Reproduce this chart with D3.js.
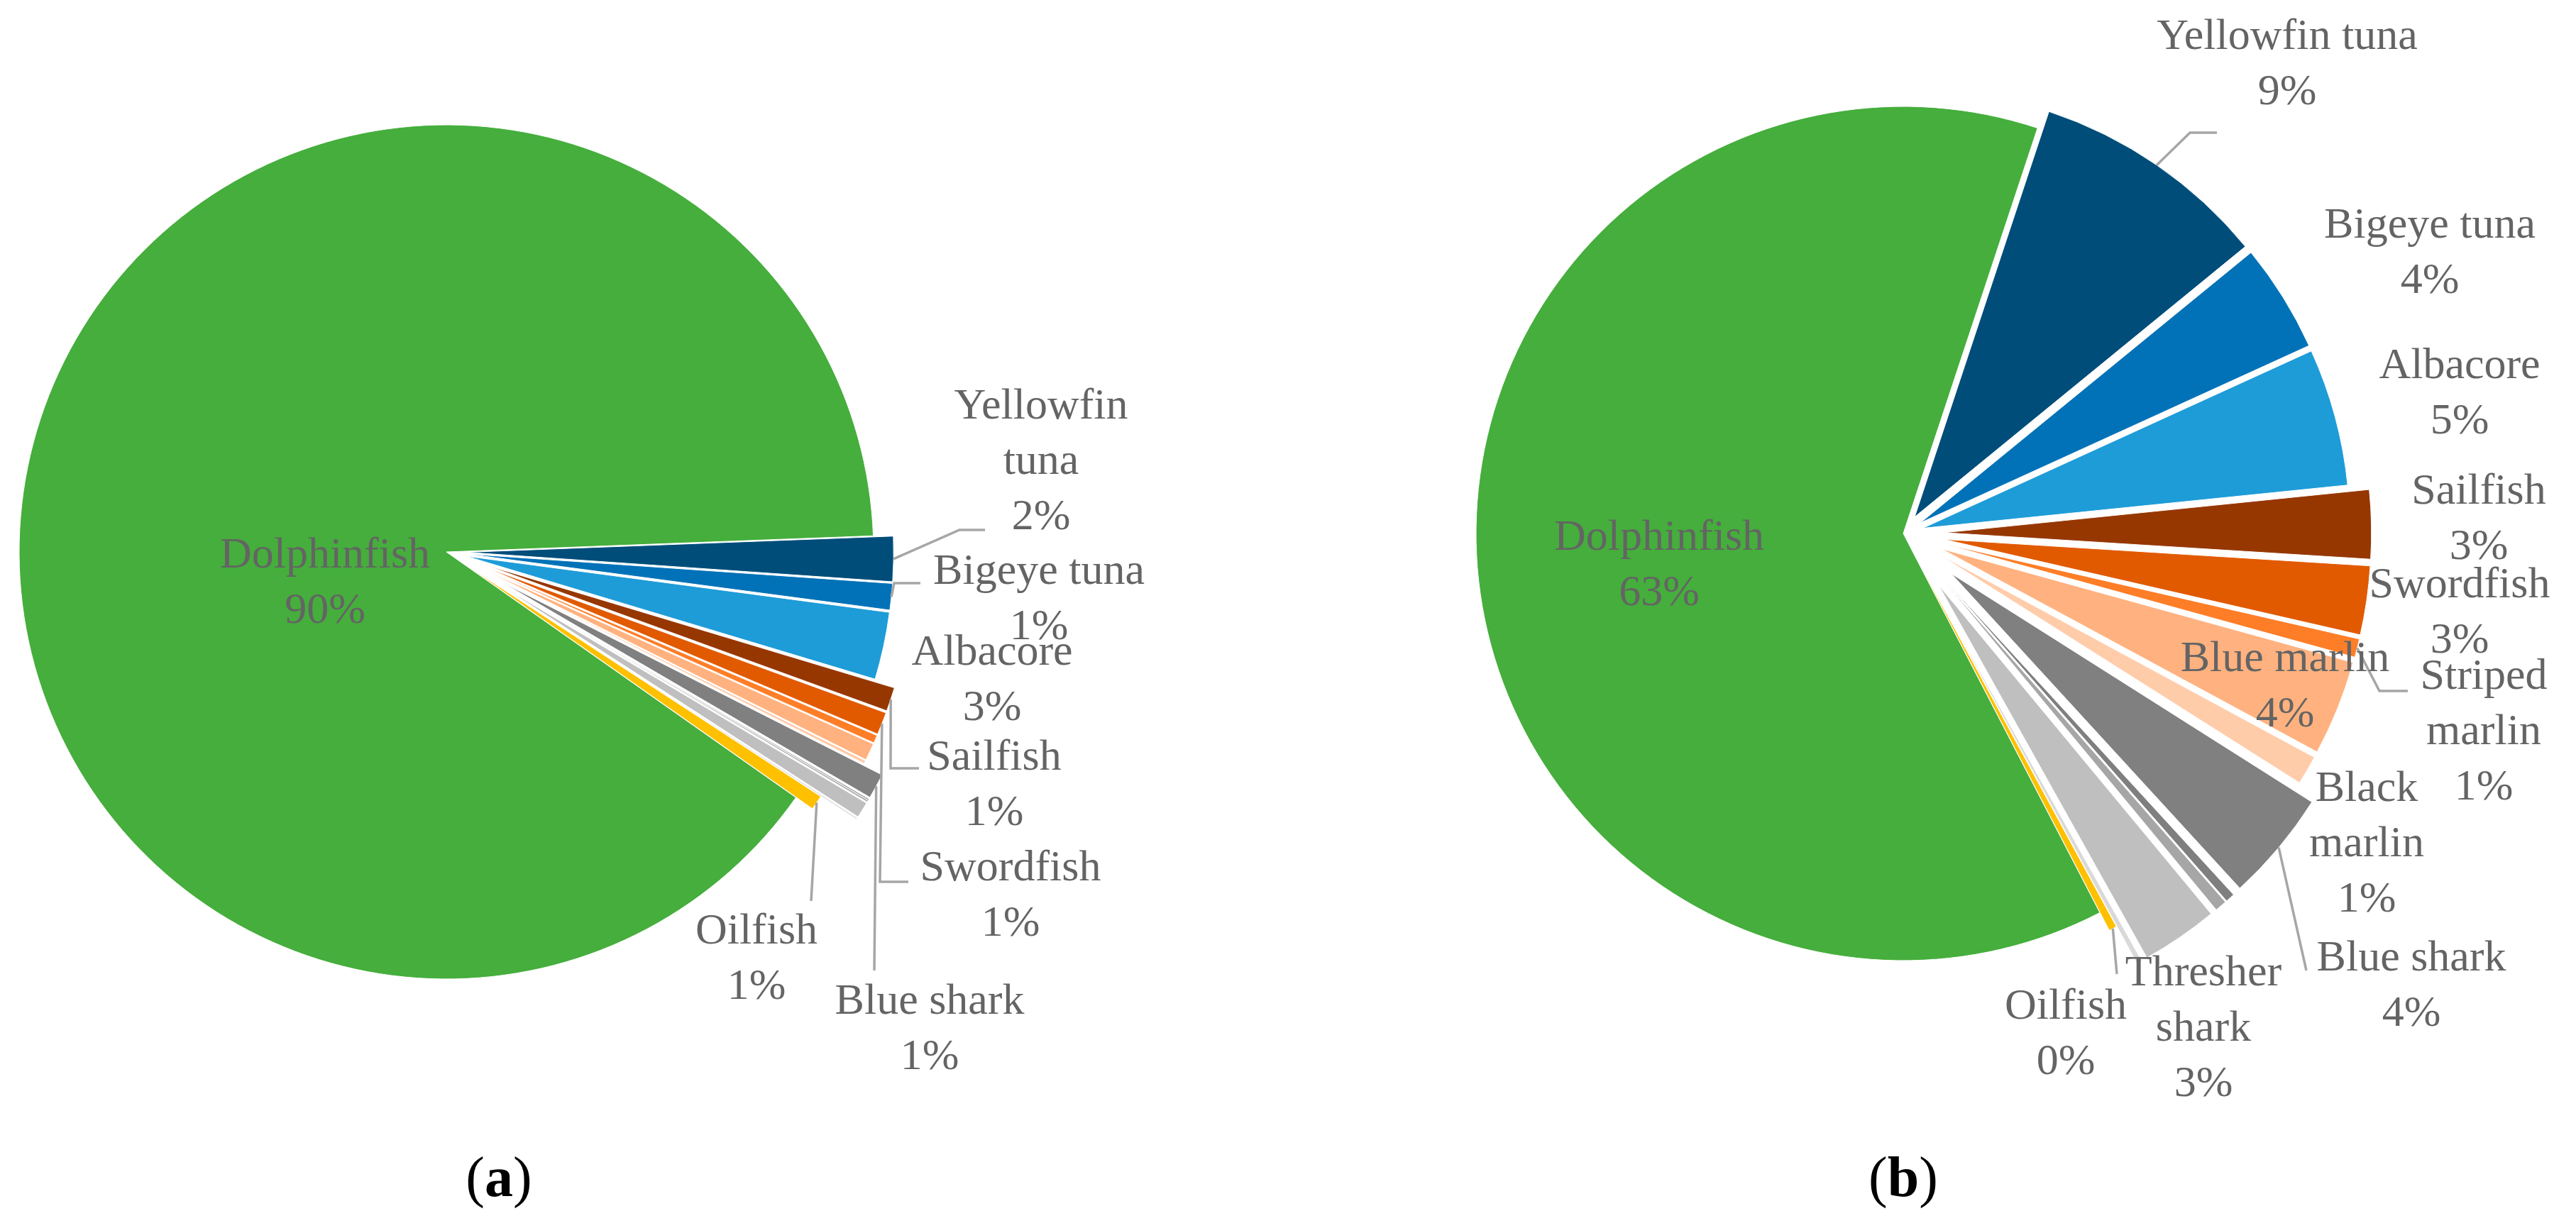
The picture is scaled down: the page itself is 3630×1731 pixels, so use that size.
<!DOCTYPE html>
<html><head><meta charset="utf-8">
<script src="https://cdn.jsdelivr.net/npm/d3@7"></script>
<style>html,body{margin:0;padding:0;background:#fff;} svg{display:block}</style>
</head><body>
<svg id="chart" width="3630" height="1731"></svg>
<script>
// ---------------- data ----------------
const species = ["Dolphinfish","Yellowfin tuna","Bigeye tuna","Albacore","Sailfish","Swordfish",
  "Striped marlin","Blue marlin","Black marlin","Blue shark","Other shark 1","Other shark 2",
  "Thresher shark","Other shark 3","Oilfish"];
// share of catch (%), panel (a)
const valuesA = [89.65,1.7,1.0,2.55,0.9,0.85,0.3,0.65,0.12,0.95,0.05,0.07,0.6,0.06,0.55];
// share of catch (%), panel (b)
const valuesB = [62.7,9.0,4.1,5.2,2.6,2.6,0.7,3.6,1.1,4.2,0.35,0.45,2.9,0.2,0.3];
const panelNames = ["a","b"];

// ---------------- style / layout ----------------
const colors = ["#45AE3C","#004D7A","#0272B8","#1E9CD8","#963700","#E15A00","#FE7E28","#FFB27F",
  "#FFCCAA","#808080","#7F7F7F","#A6A6A6","#BFBFBF","#D9D9D9","#FFC000"];
const explodeFrac = [0,0.047,0.047,0.047,0.096,0.096,0.096,0.096,0.096,0.146,0.146,0.146,0.146,0.146,0.047];
const R = 602;
const FONT = "'Liberation Serif', serif";
const FS = 62, LH = 78;

const panels = [
  {values: valuesA, cx: 629, cy: 778, start: 125.1, capX: 703,
   labels: [
     {i:0, x:458, y:800},
     {i:1, x:1467, y:590, wrap:true, leader:[[1352,747],[1388,747]]},
     {i:2, x:1464, y:823, leader:[[1260,822],[1297,822]]},
     {i:3, x:1398, y:937},
     {i:4, x:1401, y:1085, leader:[[1255,1083],[1295,1083]]},
     {i:5, x:1424, y:1241, leader:[[1240,1243],[1280,1243]]},
     {i:9, x:1310, y:1429, leader:[[1232,1368]]},
     {i:14, x:1066, y:1330, leader:[[1143,1270]]}
   ]},
  {values: valuesB, cx: 2682, cy: 752, start: 152.6, capX: 2682,
   labels: [
     {i:0, x:2338, y:775},
     {i:1, x:3223, y:69, leader:[[3086,187],[3124,187]]},
     {i:2, x:3424, y:335},
     {i:3, x:3466, y:533},
     {i:4, x:3493, y:710},
     {i:5, x:3466, y:842},
     {i:6, x:3500, y:971, wrap:true, leader:[[3353,974],[3393,974]]},
     {i:7, x:3220, y:946},
     {i:8, x:3335, y:1129, wrap:true},
     {i:9, x:3398, y:1368, leader:[[3250,1368]]},
     {i:12, x:3105, y:1389, wrap:true},
     {i:14, x:2911, y:1436, leader:[[2983,1373]]}
   ]}
];

// ---------------- drawing ----------------
const svg = d3.select("#chart");
svg.append("rect").attr("width",3630).attr("height",1731).attr("fill","#fff");
const rad = d => d*Math.PI/180;
const arc = d3.arc().innerRadius(0).outerRadius(R);
const textLayer = [];

panels.forEach((p, pi) => {
  const total = d3.sum(p.values);
  const pie = d3.pie().sort(null).value(d => d)
    .startAngle(rad(p.start)).endAngle(rad(p.start) + 2*Math.PI);
  const arcs = pie(p.values);
  const off = (d, i) => {
    const m = (d.startAngle + d.endAngle)/2, e = explodeFrac[i]*R;
    return [e*Math.sin(m), -e*Math.cos(m)];
  };
  const g = svg.append("g").attr("transform", `translate(${p.cx},${p.cy})`);
  g.selectAll("path.slice").data(arcs).join("path")
    .attr("class","slice")
    .attr("d", arc)
    .attr("fill", (d,i) => colors[i])
    .attr("stroke", "#fff").attr("stroke-width", 1)
    .attr("transform", (d,i) => { const o = off(d,i); return `translate(${o[0]},${o[1]})`; });

  p.labels.forEach(L => {
    const d = arcs[L.i];
    if (L.leader) {
      const m = (d.startAngle + d.endAngle)/2, o = off(d, L.i);
      const sx = p.cx + o[0] + R*Math.sin(m), sy = p.cy + o[1] - R*Math.cos(m);
      svg.append("path").attr("d", d3.line()([[sx,sy]].concat(L.leader)))
        .attr("fill","none").attr("stroke","#A6A6A6").attr("stroke-width",3.5);
    }
    const pct = Math.round(d.data/total*100) + "%";
    const name = species[L.i];
    textLayer.push({x:L.x, y:L.y, lines:(L.wrap ? name.split(" ") : [name]).concat([pct])});
  });
  textLayer.push({caption: panelNames[pi], x: p.capX});
});

textLayer.forEach(T => {
  if (T.caption) {
    const c = svg.append("text").attr("x",T.x).attr("y",1686).attr("text-anchor","middle")
      .attr("font-family",FONT).attr("font-size",80).attr("fill","#000");
    c.append("tspan").text("(");
    c.append("tspan").attr("font-weight","bold").text(T.caption);
    c.append("tspan").text(")");
    return;
  }
  const t = svg.append("text").attr("text-anchor","middle").attr("font-family",FONT)
    .attr("font-size",FS).attr("fill","#646464");
  T.lines.forEach((s,k) => t.append("tspan").attr("x",T.x).attr("y",T.y + k*LH).text(s));
});
</script>
</body></html>
